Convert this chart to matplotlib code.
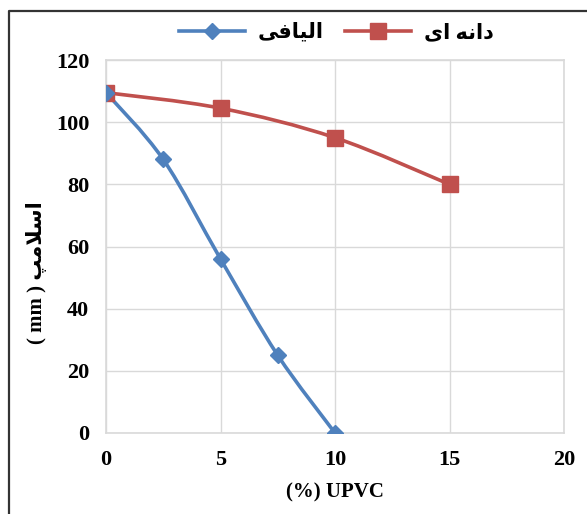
import numpy as np
import matplotlib.pyplot as plt
from matplotlib.path import Path
from matplotlib.patches import PathPatch
from matplotlib.lines import Line2D

# Data
fiber_x = [0, 2.5, 5, 7.5, 10]
fiber_y = [109.5, 88, 56, 25, 0]
grain_x = [0, 5, 10, 15]
grain_y = [109.5, 104.5, 95, 80]

# Persian labels written in presentation forms (visual order) since matplotlib does no shaping
label_fiber = "\uFEF0\uFED3\uFE8E\uFEF4\uFEDF\uFE8D"          # الیافی
label_grain = "\uFEEF\uFE8D \uFEEA\uFEE7\uFE8D\uFEA9"         # دانه ای
label_y = "( mm ) " + "\uFB57\uFEE3\uFEFC\uFEB3\uFE8D"        # اسلامپ (mm)
label_x = "(%) UPVC"

blue = '#4F81BD'
red = '#C0504D'
fonts = ['Liberation Serif', 'DejaVu Sans']


def smooth_path(xs, ys):
    # Catmull-Rom style bezier through the data points (like Excel smoothed lines)
    p = np.column_stack([xs, ys]).astype(float)
    n = len(p)
    verts = [p[0]]
    codes = [Path.MOVETO]
    for i in range(n - 1):
        p0 = p[i - 1] if i > 0 else p[i]
        p3 = p[i + 2] if i + 2 < n else p[i + 1]
        c1 = p[i] + (p[i + 1] - p0) / 6
        c2 = p[i + 1] - (p3 - p[i]) / 6
        verts += [c1, c2, p[i + 1]]
        codes += [Path.CURVE4] * 3
    return Path(verts, codes)


fig = plt.figure(figsize=(5.87, 5.14), dpi=100)
ax = fig.add_axes([106 / 587, 1 - 433 / 514, 458 / 587, 373 / 514])

ax.add_patch(PathPatch(smooth_path(grain_x, grain_y), fc='none', ec=red, lw=2.6, zorder=3))
ax.add_patch(PathPatch(smooth_path(fiber_x, fiber_y), fc='none', ec=blue, lw=2.6, zorder=3))
ax.plot(grain_x, grain_y, ls='none', marker='s', ms=11, color=red, zorder=4)
ax.plot(fiber_x, fiber_y, ls='none', marker='D', ms=8.5, color=blue, zorder=4)

ax.set_xlim(0, 20)
ax.set_ylim(0, 120)
ax.set_xticks(range(0, 21, 5))
ax.set_yticks(range(0, 121, 20))
ax.grid(True, color='#D9D9D9', lw=1)
ax.set_axisbelow(True)
for s in ax.spines.values():
    s.set_color('#D9D9D9')
    s.set_linewidth(1.2)
ax.tick_params(axis='y', length=0, pad=12)
ax.tick_params(axis='x', length=0, pad=12)
for t in ax.get_xticklabels() + ax.get_yticklabels():
    t.set_fontfamily(fonts)
    t.set_fontweight('bold')
    t.set_fontsize(16)

ax.set_xlabel(label_x, family=fonts, fontweight='bold', fontsize=15, labelpad=9)
ax.set_ylabel(label_y, family=fonts, fontweight='bold', fontsize=15)
ax.yaxis.set_label_coords(-0.128, 0.43)

handles = [Line2D([], [], color=blue, lw=2.6, marker='D', ms=8.5),
           Line2D([], [], color=red, lw=2.6, marker='s', ms=11)]
fig.legend(handles, [label_fiber, label_grain], loc='center', ncol=2,
           bbox_to_anchor=(0.573, 0.936), frameon=False, handlelength=3.2,
           columnspacing=1.0, handletextpad=0.6,
           prop={'family': fonts, 'weight': 'bold', 'size': 15})

# dark frame around the chart (left and top edges visible)
bx = 8.5 / 587
by = 1 - 11 / 514
fig.add_artist(Line2D([bx, bx, 1.01], [-0.01, by, by], color='#333333', lw=1.6,
                      transform=fig.transFigure))

fig.savefig('out.png', dpi=100)
